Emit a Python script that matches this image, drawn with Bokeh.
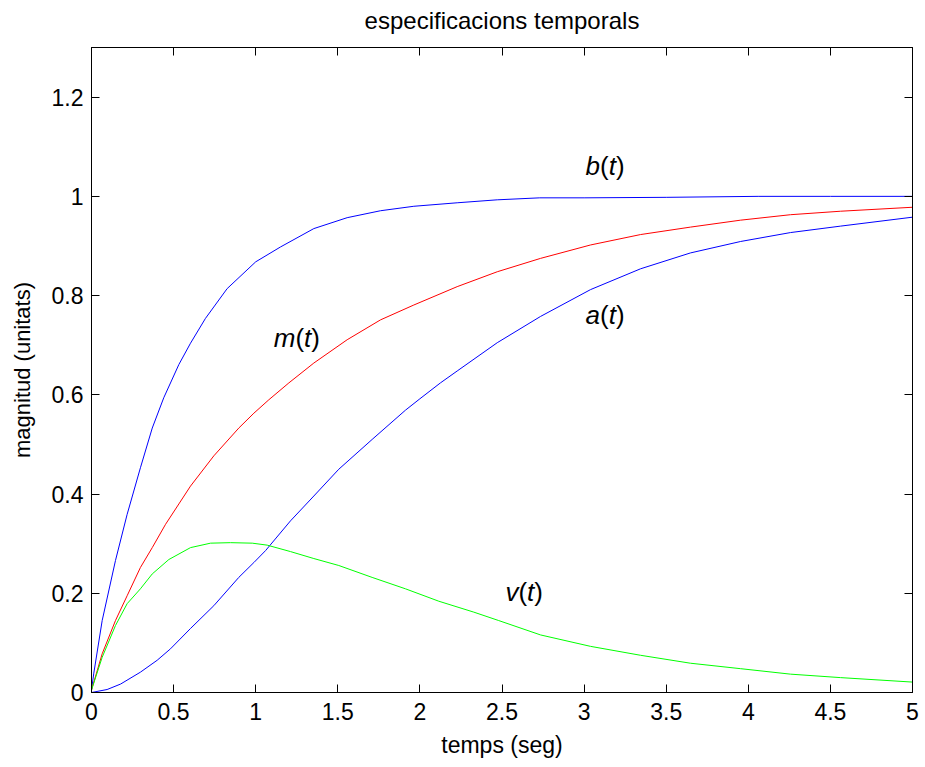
from bokeh.plotting import figure
from bokeh.models import LinearAxis, FixedTicker, NumeralTickFormatter, Range1d
from bokeh.core.properties import value
from bokeh.embed import file_html
from bokeh.resources import INLINE

FONT = "Liberation Sans"

# ---- data ----
b_t = [0, 0.014, 0.065, 0.146, 0.217, 0.298, 0.37, 0.44, 0.532, 0.603, 0.694, 0.826,
       1.0, 1.151, 1.354, 1.557, 1.76, 1.963, 2.227, 2.471, 2.73, 3.0, 3.5, 4.06, 4.5, 5.0]
b_v = [0.005, 0.039, 0.145, 0.266, 0.359, 0.453, 0.533, 0.594, 0.661, 0.704, 0.754, 0.814,
       0.868, 0.898, 0.935, 0.957, 0.971, 0.980, 0.987, 0.993, 0.997, 0.997, 0.998, 1.0, 1.0, 1.0]

m_t = [0, 0.065, 0.146, 0.217, 0.298, 0.37, 0.451, 0.532, 0.603, 0.745, 0.897, 0.989,
       1.08, 1.202, 1.354, 1.557, 1.76, 1.963, 2.227, 2.471, 2.735, 3.039, 3.344, 3.648,
       3.953, 4.257, 4.562, 5.0]
m_v = [0.005, 0.078, 0.145, 0.195, 0.252, 0.292, 0.339, 0.380, 0.416, 0.477, 0.533, 0.563,
       0.590, 0.624, 0.664, 0.711, 0.751, 0.781, 0.818, 0.848, 0.875, 0.902, 0.923, 0.938,
       0.952, 0.963, 0.970, 0.978]

a_t = [0, 0.095, 0.177, 0.298, 0.4, 0.481, 0.603, 0.745, 0.897, 0.989, 1.06, 1.212, 1.354,
       1.506, 1.709, 1.912, 2.0, 2.125, 2.227, 2.471, 2.735, 3.039, 3.344, 3.648, 3.953, 4.257,
       4.562, 5.0]
a_v = [0.0, 0.006, 0.017, 0.041, 0.065, 0.088, 0.129, 0.175, 0.232, 0.262, 0.286, 0.346, 0.396,
       0.450, 0.510, 0.569, 0.592, 0.624, 0.648, 0.705, 0.758, 0.812, 0.854, 0.886, 0.909, 0.927,
       0.940, 0.958]

v_t = [0, 0.065, 0.146, 0.217, 0.298, 0.37, 0.471, 0.603, 0.725, 0.847, 0.979, 1.07, 1.212,
       1.354, 1.506, 1.709, 1.912, 2.115, 2.328, 2.48, 2.735, 3.039, 3.344, 3.648, 3.953,
       4.257, 4.562, 5.0]
v_v = [0.005, 0.071, 0.135, 0.179, 0.209, 0.239, 0.268, 0.292, 0.301, 0.302, 0.301, 0.297, 0.284,
       0.270, 0.256, 0.232, 0.209, 0.184, 0.162, 0.145, 0.116, 0.093, 0.075, 0.059, 0.048,
       0.037, 0.030, 0.021]

x_ticks = [0, 0.5, 1, 1.5, 2, 2.5, 3, 3.5, 4, 4.5, 5]
y_ticks = [0, 0.2, 0.4, 0.6, 0.8, 1.0, 1.2]

title_text = "especificacions temporals"
x_label = "temps (seg)"
y_label = "magnitud (unitats)"

# ---- figure ----
p = figure(width=925, height=767, output_backend="svg", toolbar_location=None,
           x_range=Range1d(0, 5), y_range=Range1d(0, 1.3),
           min_border_left=91, min_border_right=13, min_border_top=47, min_border_bottom=75)
p.background_fill_color = "white"
p.border_fill_color = "white"
p.outline_line_color = "black"
p.outline_line_width = 1
p.xgrid.visible = False
p.ygrid.visible = False

ax_b = p.xaxis[0]
ax_l = p.yaxis[0]

def style_axis(ax, ticks, labels=True):
    ax.ticker = FixedTicker(ticks=ticks)
    ax.major_tick_in = 8
    ax.major_tick_out = 0
    ax.minor_tick_line_color = None
    ax.axis_line_color = "black"
    ax.major_tick_line_color = "black"
    if labels:
        ax.formatter = NumeralTickFormatter(format="0.[0]")
        ax.major_label_text_font = FONT
        ax.major_label_text_font_size = "23px"
        ax.major_label_text_color = "black"
    else:
        ax.major_label_overrides = {t: "" for t in ticks}
        ax.major_label_text_font_size = "1px"
        ax.major_label_standoff = 0

style_axis(ax_b, x_ticks)
style_axis(ax_l, y_ticks)
ax_b.major_label_standoff = 10
ax_l.major_label_standoff = 8

ax_r = LinearAxis()
style_axis(ax_r, y_ticks, labels=False)
p.add_layout(ax_r, "right")
ax_t = LinearAxis()
style_axis(ax_t, x_ticks, labels=False)
p.add_layout(ax_t, "above")

# title drawn as the label of the top axis so that it sits where the reference has it
for ax, lab in ((ax_b, x_label), (ax_l, y_label), (ax_t, title_text)):
    ax.axis_label = lab
    ax.axis_label_text_font = FONT
    ax.axis_label_text_font_style = "normal"
    ax.axis_label_text_color = "black"
ax_b.axis_label_text_font_size = "23px"
ax_b.axis_label_standoff = 9
ax_l.axis_label_text_font_size = "22px"
ax_l.axis_label_standoff = 14
ax_t.axis_label_text_font_size = "24px"
ax_t.axis_label_standoff = 14

# ---- curves ----
p.line(b_t, b_v, line_color="#0000FF", line_width=1)
p.line(m_t, m_v, line_color="#FF0000", line_width=1)
p.line(a_t, a_v, line_color="#0000FF", line_width=1)
p.line(v_t, v_v, line_color="#00FF00", line_width=1)

# ---- curve labels: italic letters, upright parentheses ----
LFS = 26
def fn_label(letter, x, y, wl):
    pieces = [(letter, "italic", 0), ("(", "normal", wl), ("t", "italic", wl + 0.333 * LFS),
              (")", "normal", wl + (0.333 + 0.278) * LFS)]
    for txt, style, off in pieces:
        p.text(x=[x], y=[y], text=[txt], x_offset=off, text_font=value(FONT),
               text_font_size=f"{LFS}px", text_font_style=style, text_color="black",
               text_baseline="alphabetic", text_align="left")

fn_label("b", 3.009, 1.062, 0.556 * LFS)
fn_label("m", 1.110, 0.714, 0.833 * LFS)
fn_label("a", 3.009, 0.761, 0.556 * LFS)
fn_label("v", 2.521, 0.202, 0.5 * LFS)

open("out.html", "w").write(file_html(p, INLINE))
